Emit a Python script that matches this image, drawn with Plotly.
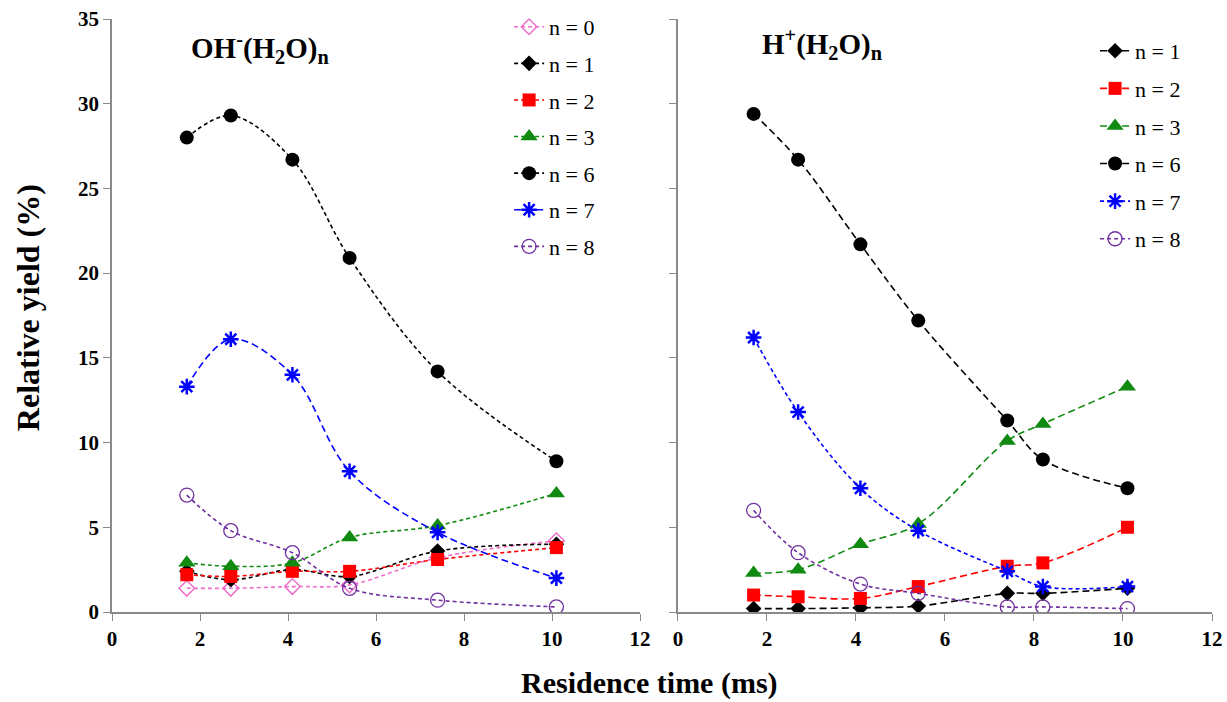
import plotly.graph_objects as go

# ---------------- data ----------------
t_oh = [1.7, 2.7, 4.1, 5.4, 7.4, 10.1]
oh_n0 = [1.4, 1.4, 1.5, 1.6, 3.2, 4.2]
oh_n1 = [2.4, 1.9, 2.5, 2.1, 3.6, 4.0]
oh_n2 = [2.2, 2.1, 2.4, 2.4, 3.1, 3.8]
oh_n3 = [2.9, 2.7, 2.9, 4.4, 5.1, 7.0]
oh_n6 = [28.0, 29.3, 26.7, 20.9, 14.2, 8.9]
oh_n7 = [13.3, 16.1, 14.0, 8.3, 4.7, 2.0]
oh_n8 = [6.9, 4.8, 3.5, 1.4, 0.7, 0.3]

t_h = [1.7, 2.7, 4.1, 5.4, 7.4, 8.2, 10.1]
h_n1 = [0.2, 0.2, 0.25, 0.35, 1.1, 1.1, 1.4]
h_n2 = [1.0, 0.9, 0.8, 1.5, 2.7, 2.9, 5.0]
h_n3 = [2.3, 2.5, 4.0, 5.2, 10.1, 11.1, 13.3]
h_n6 = [29.4, 26.7, 21.7, 17.2, 11.3, 9.0, 7.3]
h_n7 = [16.2, 11.8, 7.3, 4.8, 2.4, 1.5, 1.5]
h_n8 = [6.0, 3.5, 1.65, 1.1, 0.3, 0.3, 0.2]

x_ticks = [0, 2, 4, 6, 8, 10, 12]
y_ticks = [0, 5, 10, 15, 20, 25, 30, 35]

PINK = "#EE6FCB"
RED = "#FF0000"
GREEN = "#118A11"
BLUE = "#0000FF"
PURPLE = "#7030A0"
BLACK = "#000000"
SHORT = "4px,3px"
LONG = "7px,4px"
SERIF = "Liberation Serif, Times New Roman, DejaVu Serif, serif"

fig = go.Figure()


def add(x, y, name, color, symbol, size, dash, xa, ya, legend, group, mlw=0):
    marker = dict(symbol=symbol, size=size, color=color,
                  line=dict(color=color, width=mlw))
    fig.add_trace(go.Scatter(
        x=x, y=y, name=name, mode="lines+markers",
        line=dict(color=color, width=1.6, dash=dash, shape="spline", smoothing=1),
        marker=marker, xaxis=xa, yaxis=ya, legend=legend, legendgroup=group))


# left panel: OH-(H2O)n
add(t_oh, oh_n0, "n = 0", PINK, "diamond-open", 12, SHORT, "x", "y", "legend", "a0", mlw=1.5)
add(t_oh, oh_n1, "n = 1", BLACK, "diamond", 12, SHORT, "x", "y", "legend", "a1")
add(t_oh, oh_n2, "n = 2", RED, "square", 13, SHORT, "x", "y", "legend", "a2")
add(t_oh, oh_n3, "n = 3", GREEN, "triangle-up", 15, SHORT, "x", "y", "legend", "a3")
add(t_oh, oh_n6, "n = 6", BLACK, "circle", 14, SHORT, "x", "y", "legend", "a6")
add(t_oh, oh_n7, "n = 7", BLUE, "asterisk-open", 13, LONG, "x", "y", "legend", "a7", mlw=2.5)
add(t_oh, oh_n8, "n = 8", PURPLE, "circle-open", 14, SHORT, "x", "y", "legend", "a8", mlw=1.3)

# right panel: H+(H2O)n
add(t_h, h_n1, "n = 1", BLACK, "diamond", 12, LONG, "x2", "y2", "legend2", "b1")
add(t_h, h_n2, "n = 2", RED, "square", 13, LONG, "x2", "y2", "legend2", "b2")
add(t_h, h_n3, "n = 3", GREEN, "triangle-up", 15, LONG, "x2", "y2", "legend2", "b3")
add(t_h, h_n6, "n = 6", BLACK, "circle", 14, LONG, "x2", "y2", "legend2", "b6")
add(t_h, h_n7, "n = 7", BLUE, "asterisk-open", 13, SHORT, "x2", "y2", "legend2", "b7", mlw=2.5)
add(t_h, h_n8, "n = 8", PURPLE, "circle-open", 14, SHORT, "x2", "y2", "legend2", "b8", mlw=1.3)

AXCOL = "#8A8A8A"
tickfont = dict(family=SERIF, size=21, color="black", weight="bold")

xcommon = dict(range=[0, 12], tickvals=x_ticks, showline=True, linecolor=AXCOL,
               linewidth=1.6, ticks="outside", ticklen=7, tickcolor=AXCOL,
               showgrid=False, zeroline=False, tickfont=tickfont)
ycommon = dict(range=[0, 35], tickvals=y_ticks, showline=True, linecolor=AXCOL,
               linewidth=1.6, ticks="outside", ticklen=7, tickcolor=AXCOL,
               showgrid=False, zeroline=False, tickfont=tickfont)

legfont = dict(family=SERIF, size=22, color="black")
titlefont = dict(family=SERIF, size=29, color="black")
xtitlefont = dict(family=SERIF, size=30, color="black")
ytitlefont = dict(family=SERIF, size=32, color="black")

fig.update_layout(
    width=1227, height=702,
    margin=dict(l=112, r=15, t=19, b=90, autoexpand=False),
    paper_bgcolor="white", plot_bgcolor="white",
    font=dict(family=SERIF),
    xaxis=dict(domain=[0, 0.48], anchor="y", **xcommon),
    yaxis=dict(domain=[0, 1], anchor="x", **ycommon),
    xaxis2=dict(domain=[0.5145, 1], anchor="y2", **xcommon),
    yaxis2=dict(domain=[0, 1], anchor="x2", showticklabels=False,
                **{k: v for k, v in ycommon.items() if k != "tickfont"}),
    legend=dict(x=0.361, y=1.022, xanchor="left", yanchor="top", font=legfont,
                bgcolor="rgba(255,255,255,0)", tracegroupgap=5, traceorder="grouped"),
    legend2=dict(x=0.8937, y=0.9815, xanchor="left", yanchor="top", font=legfont,
                 bgcolor="rgba(255,255,255,0)", tracegroupgap=6, traceorder="grouped"),
    annotations=[
        dict(text="<b>OH<sup>-</sup>(H<sub>2</sub>O)<sub>n</sub></b>", xref="paper", yref="paper",
             x=0.1345, y=0.951, xanchor="center", yanchor="middle", showarrow=False, font=titlefont),
        dict(text="<b>H<sup>+</sup>(H<sub>2</sub>O)<sub>n</sub></b>", xref="paper", yref="paper",
             x=0.6455, y=0.958, xanchor="center", yanchor="middle", showarrow=False, font=titlefont),
        dict(text="<b>Relative yield (%)</b>", xref="paper", yref="paper", x=-0.0764, y=0.514,
             xanchor="center", yanchor="middle", textangle=-90, showarrow=False, font=ytitlefont),
        dict(text="<b>Residence time (ms)</b>", xref="paper", yref="paper", x=0.489, y=-0.1197,
             xanchor="center", yanchor="middle", showarrow=False, font=xtitlefont),
    ],
    showlegend=True,
)

fig.write_html("out.html")
